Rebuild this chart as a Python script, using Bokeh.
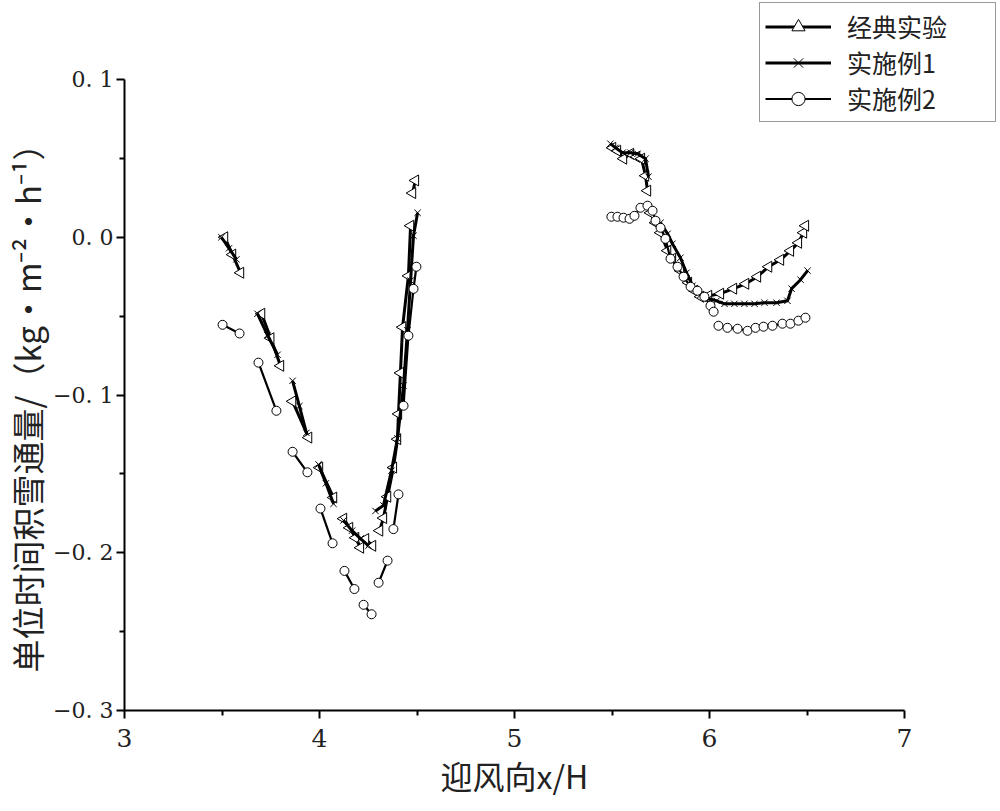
import numpy as np
from bokeh.plotting import figure
from bokeh.models import Legend, LegendItem, FixedTicker, ColumnDataSource, Title
from bokeh.embed import file_html
from bokeh.resources import INLINE

# ---------------- data (segments separated by gaps) ----------------
classic_x = [
    [3.513, 3.554, 3.595],
    [3.703, 3.750, 3.800],
    [3.862, 3.944],
    [4.000, 4.072],
    [4.123, 4.154, 4.185, 4.210],
    [4.236, 4.272],
    [4.308, 4.328, 4.349, 4.379, 4.400, 4.405, 4.415, 4.426, 4.456, 4.467],
    [4.477, 4.492],
    [5.503, 5.528, 5.559, 5.595, 5.626, 5.651, 5.672, 5.682],
    [5.697, 5.723, 5.749, 5.785, 5.810, 5.851, 5.892, 5.923, 5.954, 5.995,
     6.056, 6.123, 6.185, 6.246, 6.303, 6.364, 6.415, 6.456, 6.482, 6.492],
]
classic_y = [
    [0.000, -0.011, -0.0225],
    [-0.0485, -0.064, -0.0815],
    [-0.104, -0.127],
    [-0.146, -0.165],
    [-0.1784, -0.1842, -0.1905, -0.1968],
    [-0.1913, -0.1956],
    [-0.186, -0.178, -0.1645, -0.146, -0.128, -0.112, -0.086, -0.057, -0.0245, 0.0073],
    [0.028, 0.036],
    [0.0567, 0.0548, 0.0498, 0.0529, 0.0510, 0.0498, 0.0390, 0.0295],
    [0.0155, 0.0092, 0.0029, -0.0085, -0.0136, -0.0212, -0.0288, -0.0339, -0.0377, -0.0371,
     -0.0358, -0.0326, -0.0295, -0.0250, -0.0187, -0.0143, -0.0086, -0.0035, 0.0029, 0.0073],
]

ex1_x = [
    [3.497, 3.536, 3.574],
    [3.682, 3.733, 3.785],
    [3.862, 3.897, 3.933],
    [3.995, 4.033, 4.072],
    [4.123, 4.167, 4.210, 4.251],
    [4.287, 4.328, 4.369, 4.400, 4.431, 4.451, 4.467, 4.482, 4.503],
    [5.492, 5.518, 5.554, 5.595, 5.631, 5.672, 5.687],
    [5.749, 5.785, 5.810, 5.851, 5.882, 5.913, 5.954, 5.995, 6.036, 6.077,
     6.128, 6.179, 6.231, 6.282, 6.344, 6.400, 6.421, 6.467, 6.503],
]
ex1_y = [
    [0.000, -0.007, -0.014],
    [-0.0485, -0.062, -0.0745],
    [-0.091, -0.107, -0.124],
    [-0.144, -0.156, -0.169],
    [-0.1795, -0.186, -0.191, -0.1955],
    [-0.1735, -0.170, -0.148, -0.1275, -0.094, -0.059, -0.0275, 0.001, 0.0155],
    [0.0593, 0.0567, 0.0536, 0.0536, 0.0529, 0.0498, 0.0384],
    [0.0092, 0.0022, -0.0041, -0.0130, -0.0225, -0.0307, -0.0365, -0.0390, -0.0403, -0.0422,
     -0.0422, -0.0422, -0.0422, -0.0415, -0.0415, -0.0403, -0.0326, -0.0269, -0.0212],
]

ex2_x = [
    [3.503, 3.590],
    [3.687, 3.779],
    [3.862, 3.938],
    [4.005, 4.067],
    [4.128, 4.179],
    [4.226, 4.267],
    [4.303, 4.349],
    [4.379, 4.405],
    [4.431, 4.456, 4.482, 4.497],
    [5.497, 5.528, 5.559, 5.590, 5.615, 5.646, 5.682, 5.708, 5.723, 5.749,
     5.774, 5.800, 5.836, 5.867, 5.903, 5.938, 5.974, 6.005, 6.021],
    [6.046, 6.092, 6.144, 6.195, 6.236, 6.277, 6.323, 6.374, 6.415, 6.456, 6.492],
]
ex2_y = [
    [-0.0555, -0.061],
    [-0.0795, -0.110],
    [-0.136, -0.149],
    [-0.172, -0.194],
    [-0.2115, -0.223],
    [-0.233, -0.239],
    [-0.219, -0.205],
    [-0.185, -0.163],
    [-0.1068, -0.0624, -0.0327, -0.0187],
    [0.0130, 0.0130, 0.0124, 0.0117, 0.0136, 0.0187, 0.0200, 0.0168, 0.0105, 0.0060,
     -0.0010, -0.0136, -0.0187, -0.0250, -0.0314, -0.0339, -0.0377, -0.0434, -0.0472],
    [-0.0561, -0.0574, -0.0580, -0.0593, -0.0574, -0.0567, -0.0561, -0.0548, -0.0548, -0.0529, -0.0510],
]

series_labels = ["经典实验", "实施例1", "实施例2"]
x_label = "迎风向x/H"
y_label = "单位时间积雪通量/（kg•m⁻²•h⁻¹）"
x_ticks = [3, 4, 5, 6, 7]
x_minor = [3.5, 4.5, 5.5, 6.5]
y_ticks = [-0.3, -0.2, -0.1, 0.0, 0.1]
y_minor = [-0.25, -0.15, -0.05, 0.05]
y_tick_labels = ["\u22120. 3", "\u22120. 2", "\u22120. 1", "0. 0", "0. 1"]
x_axis_bounds = (3, 7)
y_axis_bounds = (-0.3, 0.1)


def flatten(segs):
    out = []
    for i, s in enumerate(segs):
        if i:
            out.append(np.nan)
        out.extend(s)
    return np.array(out, dtype=float)


# frame extends past the axes (right/top) so the legend can sit there
PX_PER_X = 195.0
PX_PER_Y = 1577.5
FW, FH = 874, 710
x_end = x_axis_bounds[0] + FW / PX_PER_X
y_end = y_axis_bounds[0] + FH / PX_PER_Y

p = figure(frame_width=FW, frame_height=FH,
           x_range=(x_axis_bounds[0], x_end), y_range=(y_axis_bounds[0], y_end),
           output_backend="svg", toolbar_location=None,
           min_border_left=124, min_border_right=0,
           min_border_top=0, min_border_bottom=60)
p.xgrid.visible = False
p.ygrid.visible = False
p.outline_line_color = None
p.background_fill_color = "white"
p.border_fill_color = "white"

TICK_FONT = "DejaVu Serif"
CJK = "Noto Sans CJK SC"

for ax in (p.xaxis[0], p.yaxis[0]):
    ax.axis_line_width = 2
    ax.axis_line_color = "black"
    ax.major_tick_line_width = 2
    ax.minor_tick_line_width = 2
    ax.major_tick_line_color = "black"
    ax.minor_tick_line_color = "black"
    ax.major_tick_out = 8
    ax.major_tick_in = 0
    ax.minor_tick_out = 5
    ax.minor_tick_in = 0
    ax.major_label_text_font = TICK_FONT
    ax.major_label_text_color = "#222222"

p.xaxis[0].major_label_text_font_size = "25px"
p.yaxis[0].major_label_text_font_size = "22px"
p.xaxis[0].bounds = x_axis_bounds
p.yaxis[0].bounds = y_axis_bounds
p.xaxis[0].ticker = FixedTicker(ticks=x_ticks, minor_ticks=x_minor)
p.yaxis[0].ticker = FixedTicker(ticks=y_ticks, minor_ticks=y_minor)
p.yaxis[0].major_label_overrides = {t: l for t, l in zip(y_ticks, y_tick_labels)}
p.xaxis[0].major_label_standoff = 10
p.yaxis[0].major_label_standoff = 3

# axis titles as side-panel titles so they can be centred on the axis bounds
p.add_layout(Title(text=x_label, align="left", offset=316, standoff=0,
                   text_font=CJK, text_font_size="32px", text_font_style="normal",
                   text_color="#222222"), "below")
p.add_layout(Title(text=y_label, align="left", offset=38, standoff=0,
                   text_font=CJK, text_font_size="33px", text_font_style="normal",
                   text_color="#222222"), "left")

items = []
specs = [
    (classic_x, classic_y, "triangle", 11, 3.0, series_labels[0]),
    (ex1_x, ex1_y, "x", 9, 3.0, series_labels[1]),
    (ex2_x, ex2_y, "circle", 9, 2.2, series_labels[2]),
]
for xs, ys, marker, size, lw, label in specs:
    src = ColumnDataSource(dict(x=flatten(xs), y=flatten(ys)))
    lr = p.line("x", "y", source=src, line_color="black", line_width=lw)
    kw = dict(marker=marker, size=size, line_color="black", line_width=1,
              fill_color="white")
    if marker == "triangle":
        kw["angle"] = np.pi / 2
    sr = p.scatter("x", "y", source=src, **kw)
    items.append(LegendItem(label=label, renderers=[lr, sr]))

legend = Legend(items=items, location="top_right",
                label_text_font=CJK, label_text_font_size="25px",
                label_text_color="#222222",
                glyph_width=66, glyph_height=33, spacing=0, padding=5,
                label_standoff=16, label_width=143, margin=2,
                border_line_color="#333333", border_line_width=1.5,
                background_fill_color="white", background_fill_alpha=1.0)
p.add_layout(legend, "center")

open("out.html", "w").write(file_html(p, INLINE))
